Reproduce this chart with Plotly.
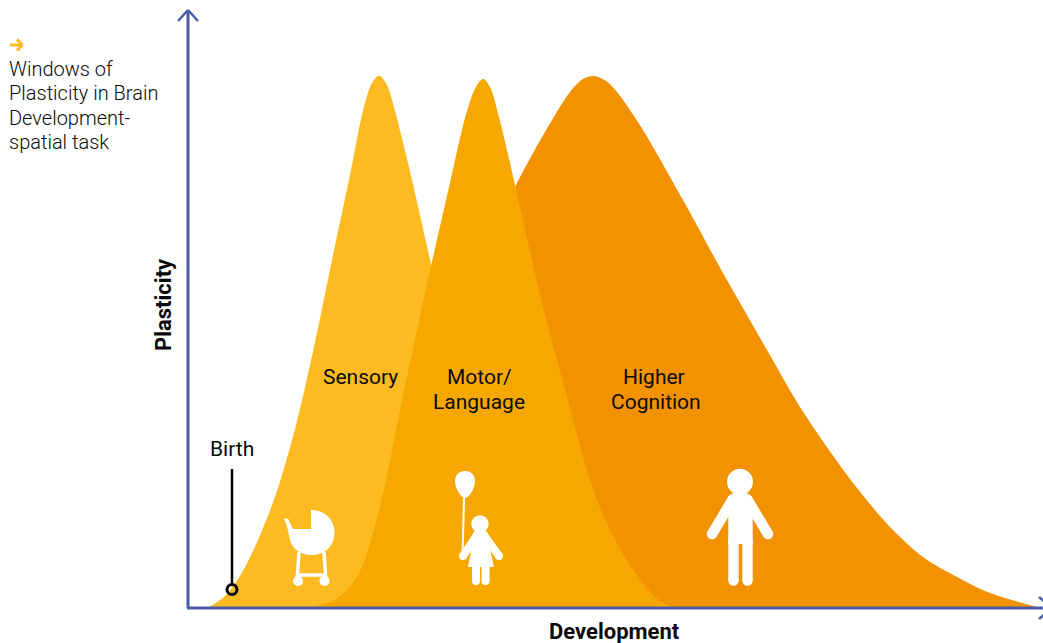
"""Windows of plasticity in brain development"""
import plotly.graph_objects as go

# curves: development = px - 188, plasticity = 607 - py
sensory_dev = [21, 36, 52, 70, 88, 107, 126, 144, 162, 175, 184, 191.3, 199, 207, 220, 232, 242, 262, 292, 322, 352]
sensory_val = [0, 10, 31, 67, 113, 178, 260, 347, 432, 496, 524, 531.3, 522, 496, 444, 392, 347, 255, 110, 25, 0]
motor_dev = [122, 142, 159, 174, 185, 197, 208, 227, 246, 262, 279, 289, 295.3, 302, 311, 332, 355, 377, 399, 415, 435, 455, 472, 484]
motor_val = [0, 5, 17, 40, 74, 122, 177, 268, 354, 424, 496, 522, 528, 520, 490, 400, 300, 218, 137, 92, 53, 24, 6, 0]
higher_dev = [232, 252, 282, 327, 357, 382, 395, 406, 418, 429, 455, 495, 535, 579, 612, 641, 669, 702, 735, 769, 802, 849]
higher_val = [0, 150, 320, 420, 475, 515, 528, 531, 526, 515, 477, 407, 334, 257, 200, 157, 119, 80, 50, 30, 14, 0]

title_lines = ["Windows of", "Plasticity in Brain", "Development-", "spatial task"]
region_labels = ["Sensory", "Motor/", "Language", "Higher", "Cognition"]

AXIS = "#4a5ba8"
WHITE = "#ffffff"
FONT = "Roboto"


def p(x, y):
    # page pixel to data units
    return f"{x - 188},{607 - y}"


def seg(x0, y0, x1, y1, color, width):
    return dict(type="line", x0=x0 - 188, y0=607 - y0, x1=x1 - 188, y1=607 - y1,
                line=dict(color=color, width=width))


def dot(x, y, r, fill=WHITE, line=None, lw=0):
    return dict(type="circle", x0=x - r - 188, x1=x + r - 188, y0=607 - y - r, y1=607 - y + r,
                fillcolor=fill, line=dict(color=line or fill, width=lw))


def capsule(x0, y0, x1, y1, width):
    # thick line with round ends
    r = width / 2
    return [seg(x0, y0, x1, y1, WHITE, width), dot(x0, y0, r), dot(x1, y1, r)]


def blob(d):
    return dict(type="path", path=d, fillcolor=WHITE, line=dict(width=0))


fig = go.Figure()
for xs, ys, color in [(higher_dev, higher_val, "#f39200"),
                      (sensory_dev, sensory_val, "#fdbb21"),
                      (motor_dev, motor_val, "#f7a800")]:
    fig.add_trace(go.Scatter(x=xs, y=ys, mode="lines", fill="toself", fillcolor=color,
                             line=dict(width=0, shape="spline", smoothing=0.9),
                             hoverinfo="skip", showlegend=False))

shapes = []
# axes with open arrow heads
shapes += [seg(188, 10, 188, 608, AXIS, 3), seg(187, 608, 1050, 608, AXIS, 3)]
shapes += [seg(188, 10, 178, 21, AXIS, 2.5), seg(188, 10, 198, 21, AXIS, 2.5)]
shapes += [seg(1052, 608, 1039, 597, AXIS, 2.5), seg(1052, 608, 1039, 619, AXIS, 2.5)]

# small arrow above the title
shapes += [seg(10, 45, 22, 45, "#fdbb21", 3), seg(17, 39.5, 22.5, 45, "#fdbb21", 3),
           seg(17, 50.5, 22.5, 45, "#fdbb21", 3)]

# birth marker
shapes += [seg(232, 469, 232, 584, "#000000", 2.5),
           dict(type="circle", x0=232 - 5 - 188, x1=232 + 5 - 188, y0=607 - 589.5 - 5, y1=607 - 589.5 + 5,
                line=dict(color="#000000", width=3))]

# stroller
shapes.append(blob(f"M{p(311, 510)} C{p(325, 510)} {p(334.5, 520)} {p(334.5, 532)} "
                   f"C{p(334.5, 546)} {p(325, 555)} {p(312, 555)} C{p(298, 555)} {p(290, 547)} {p(289, 535)} "
                   f"C{p(288.5, 530)} {p(286, 524)} {p(284, 518.5)} L{p(288, 518.5)} L{p(293, 529)} L{p(311, 529)} Z"))
shapes += [seg(299, 552, 297, 581, WHITE, 3.5), seg(324, 552, 326, 581, WHITE, 3.5),
           seg(298, 575, 325, 575, WHITE, 3.5), dot(298, 581, 5), dot(324.5, 581, 5)]

# child with balloon
shapes.append(blob(f"M{p(465, 471)} C{p(471, 471)} {p(475, 475)} {p(475, 481)} C{p(475, 488)} {p(470, 496)} {p(466, 498)} "
                   f"L{p(464, 498)} C{p(460, 496)} {p(455, 488)} {p(455, 481)} C{p(455, 475)} {p(459, 471)} {p(465, 471)} Z"))
shapes.append(seg(464, 498, 462.5, 557, WHITE, 2))
shapes.append(dot(480, 524, 8.7))
shapes.append(blob(f"M{p(475, 531)} L{p(486, 531)} L{p(494, 567)} L{p(468, 567)} Z"))
shapes += capsule(477, 535, 463, 556, 8) + capsule(484, 535, 499, 556, 8)
shapes += capsule(476, 566, 476, 581, 8) + capsule(485.5, 566, 485.5, 581, 8)

# adult
shapes.append(dot(740, 481.7, 13))
shapes.append(blob(f"M{p(733, 493)} L{p(747, 493)} L{p(752.7, 503)} L{p(752.7, 544)} L{p(728.3, 544)} L{p(728.3, 503)} Z"))
shapes += capsule(733, 499, 712, 534, 10.5) + capsule(747, 499, 768, 534, 10.5)
shapes += capsule(733.5, 540, 733.5, 580.5, 10.4) + capsule(747.5, 540, 747.5, 580.5, 10.4)
fig.update_layout(shapes=shapes)

annotations = []


def label(text, x, y, size=21, weight=400, angle=0, anchor="center", color="#0a0a0a"):
    annotations.append(dict(text=text, x=x - 188, y=607 - y, xref="x", yref="y", showarrow=False,
                            xanchor=anchor, yanchor="middle", textangle=angle,
                            font=dict(family=FONT, size=size, color=color, weight=weight)))


for line, y in zip(title_lines, [69, 93, 118, 142]):
    label(line, 7, y, size=20, weight=300, anchor="left")
label("Birth", 232, 449)
for text, x, y in zip(region_labels, [360, 479, 479, 654, 656], [377, 377, 402, 377, 402]):
    label(text, x, y)
label("Plasticity", 163, 305, size=22, weight=700, angle=-90)
label("Development", 614, 631, size=22, weight=700)

fig.update_layout(
    annotations=annotations,
    width=1043,
    height=643,
    margin=dict(l=0, r=0, t=0, b=0),
    paper_bgcolor="white",
    plot_bgcolor="white",
    xaxis=dict(visible=False, range=[-188, 855], fixedrange=True),
    yaxis=dict(visible=False, range=[-36, 607], fixedrange=True),
)
fig.write_html("out.html", config=dict(displayModeBar=False),
               post_script="document.body.style.margin='0';")
